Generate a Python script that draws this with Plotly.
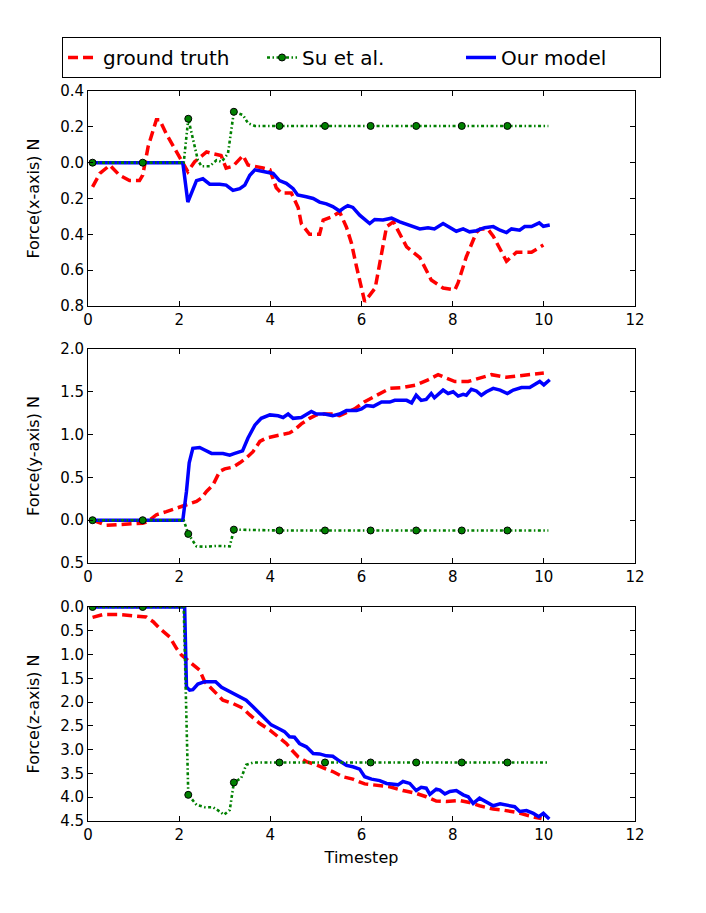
import plotly.graph_objects as go

# ---------------- data ----------------
x_ticks = [0, 2, 4, 6, 8, 10, 12]
fx_ticks = [0.4, 0.2, 0.0, -0.2, -0.4, -0.6, -0.8]
fy_ticks = [2.0, 1.5, 1.0, 0.5, 0.0, -0.5]
fz_ticks = [0.0, -0.5, -1.0, -1.5, -2.0, -2.5, -3.0, -3.5, -4.0, -4.5]

series_names = ["ground truth", "Su et al.", "Our model"]
y_titles = ["Force(x-axis) N", "Force(y-axis) N", "Force(z-axis) N"]
x_title = "Timestep"

# --- x-axis force ---
gt_fx_t = [0.1, 0.26, 0.48, 0.69, 0.91, 1.13, 1.2, 1.32, 1.5, 1.57,
           1.72, 1.9, 2.05, 2.19, 2.34, 2.6, 2.74, 2.92, 3.03, 3.18,
           3.4, 3.51, 3.84, 3.99, 4.13, 4.24, 4.46, 4.61, 4.68, 4.86,
           5.08, 5.16, 5.37, 5.52, 5.67, 5.78, 5.89, 6.07, 6.3, 6.55,
           6.7, 6.99, 7.28, 7.53, 7.79, 8.05, 8.12, 8.3, 8.52, 8.6,
           8.77, 8.89, 9.18, 9.4, 9.51, 9.73, 9.99]
gt_fx = [-0.135, -0.06, -0.014, -0.07, -0.1, -0.1, -0.07, 0.09, 0.24, 0.24,
         0.16, 0.08, 0.005, -0.05, 0.005, 0.06, 0.05, 0.04, -0.03, -0.02,
         0.04, -0.013, -0.03, -0.04, -0.14, -0.17, -0.17, -0.25, -0.34, -0.4,
         -0.4, -0.32, -0.30, -0.275, -0.36, -0.45, -0.58, -0.776, -0.70, -0.357,
         -0.33, -0.47, -0.53, -0.655, -0.70, -0.71, -0.67, -0.525, -0.39, -0.37,
         -0.37, -0.41, -0.55, -0.50, -0.50, -0.50, -0.46]

su_fx_t = [0.1, 1.2, 2.1, 2.2, 2.34, 2.41, 2.49, 2.67, 2.82, 2.93,
           3.07, 3.11, 3.2, 3.4, 3.51, 3.66, 4.2, 5.2, 6.2, 7.2,
           8.2, 9.2, 10.1]
su_fx = [0, 0, 0, 0.245, 0.09, 0.014, -0.02, -0.02, 0.014, 0.005,
         0.05, 0.12, 0.284, 0.266, 0.22, 0.205, 0.205, 0.205, 0.205, 0.205,
         0.205, 0.205, 0.205]

our_fx_t = [0.1, 2.08, 2.19, 2.38, 2.52, 2.67, 2.89, 3.03, 3.18, 3.33,
            3.44, 3.55, 3.66, 3.77, 3.91, 4.06, 4.2, 4.35, 4.5, 4.6,
            4.79, 4.94, 5.08, 5.23, 5.37, 5.52, 5.63, 5.7, 5.81, 5.96,
            6.18, 6.29, 6.47, 6.66, 6.84, 7.06, 7.28, 7.46, 7.6, 7.79,
            7.94, 8.08, 8.23, 8.37, 8.52, 8.7, 8.89, 9.04, 9.18, 9.29,
            9.47, 9.58, 9.73, 9.9, 9.99, 10.13]
our_fx = [0, 0, -0.22, -0.1, -0.09, -0.12, -0.12, -0.125, -0.155, -0.145,
          -0.125, -0.07, -0.04, -0.045, -0.055, -0.06, -0.1, -0.115, -0.145, -0.18,
          -0.19, -0.2, -0.22, -0.23, -0.245, -0.27, -0.25, -0.24, -0.25, -0.293,
          -0.34, -0.317, -0.32, -0.31, -0.33, -0.35, -0.37, -0.363, -0.37, -0.34,
          -0.36, -0.383, -0.37, -0.386, -0.38, -0.363, -0.357, -0.377, -0.39, -0.37,
          -0.377, -0.357, -0.357, -0.336, -0.355, -0.348]

# --- y-axis force ---
gt_fy_t = [0.1, 0.4, 0.7, 1.0, 1.2, 1.32, 1.5, 1.72, 1.94, 2.16,
           2.38, 2.49, 2.6, 2.74, 2.89, 3.0, 3.18, 3.33, 3.47, 3.62,
           3.77, 3.91, 4.2, 4.42, 4.53, 4.68, 4.86, 5.01, 5.19, 5.37,
           5.52, 5.7, 5.85, 6.07, 6.33, 6.62, 6.91, 7.2, 7.46, 7.68,
           7.86, 8.05, 8.34, 8.59, 8.85, 9.18, 9.47, 9.87, 10.0]
gt_fy = [0.0, -0.06, -0.05, -0.045, -0.035, -0.014, 0.064, 0.1, 0.14, 0.18,
         0.22, 0.26, 0.336, 0.41, 0.57, 0.6, 0.62, 0.67, 0.725, 0.80,
         0.92, 0.96, 1.0, 1.02, 1.055, 1.125, 1.19, 1.23, 1.24, 1.24,
         1.22, 1.26, 1.30, 1.385, 1.46, 1.54, 1.55, 1.58, 1.64, 1.70,
         1.66, 1.62, 1.62, 1.66, 1.70, 1.67, 1.69, 1.716, 1.72]

su_fy_t = [0.1, 1.2, 2.1, 2.2, 2.38, 2.56, 2.82, 3.11, 3.2, 4.2,
           5.2, 6.2, 7.2, 8.2, 9.2, 10.1]
su_fy = [0, 0, 0, -0.16, -0.305, -0.31, -0.30, -0.305, -0.11, -0.12,
         -0.12, -0.12, -0.12, -0.12, -0.12, -0.12]

our_fy_t = [0.1, 2.08, 2.16, 2.22, 2.3, 2.45, 2.56, 2.71, 2.96, 3.11,
            3.22, 3.39, 3.51, 3.66, 3.8, 3.99, 4.17, 4.28, 4.39, 4.5,
            4.68, 4.79, 4.9, 5.01, 5.19, 5.37, 5.52, 5.67, 5.89, 6.0,
            6.11, 6.26, 6.44, 6.62, 6.73, 6.88, 6.99, 7.1, 7.2, 7.31,
            7.42, 7.53, 7.6, 7.79, 7.9, 8.01, 8.12, 8.23, 8.3, 8.41,
            8.52, 8.63, 8.74, 8.89, 9.04, 9.2, 9.33, 9.51, 9.69, 9.91,
            10.0, 10.13]
our_fy = [0, 0, 0.336, 0.67, 0.84, 0.85, 0.82, 0.78, 0.78, 0.76,
          0.78, 0.81, 0.96, 1.11, 1.19, 1.23, 1.22, 1.20, 1.24, 1.19,
          1.2, 1.23, 1.27, 1.24, 1.24, 1.22, 1.24, 1.28, 1.28, 1.30,
          1.34, 1.33, 1.38, 1.38, 1.40, 1.40, 1.40, 1.37, 1.46, 1.40,
          1.41, 1.48, 1.43, 1.52, 1.48, 1.50, 1.45, 1.47, 1.46, 1.53,
          1.51, 1.46, 1.50, 1.54, 1.52, 1.48, 1.52, 1.55, 1.55, 1.62,
          1.58, 1.64]

# --- z-axis force ---
gt_fz_t = [0.1, 0.33, 0.69, 1.13, 1.28, 1.43, 1.57, 1.79, 1.94, 2.05,
           2.23, 2.45, 2.56, 2.74, 2.96, 3.18, 3.4, 3.55, 3.77, 3.99,
           4.2, 4.35, 4.5, 4.61, 4.79, 5.01, 5.23, 5.37, 5.59, 5.81,
           6.07, 6.33, 6.62, 6.91, 7.2, 7.42, 7.64, 7.86, 8.16, 8.37,
           8.59, 8.89, 9.1, 9.4, 9.58, 9.8, 9.95]
gt_fz = [-0.22, -0.16, -0.16, -0.19, -0.21, -0.31, -0.45, -0.63, -0.87, -1.01,
         -1.15, -1.33, -1.57, -1.75, -1.96, -2.03, -2.13, -2.27, -2.45, -2.59,
         -2.76, -2.87, -3.04, -3.15, -3.25, -3.32, -3.41, -3.46, -3.57, -3.62,
         -3.72, -3.74, -3.78, -3.86, -3.92, -3.99, -4.08, -4.09, -4.07, -4.11,
         -4.18, -4.25, -4.27, -4.32, -4.37, -4.42, -4.45]

su_fz_t = [0.1, 1.2, 2.1, 2.2, 2.38, 2.56, 2.74, 2.89, 2.98, 3.11,
           3.2, 3.36, 3.47, 3.62, 4.2, 5.2, 6.2, 7.2, 8.2, 9.2,
           10.1]
su_fz = [0, 0, 0, -3.95, -4.16, -4.21, -4.21, -4.30, -4.37, -4.27,
         -3.69, -3.6, -3.32, -3.27, -3.27, -3.27, -3.27, -3.27, -3.27, -3.27,
         -3.27]

our_fz_t = [0.1, 2.12, 2.16, 2.23, 2.3, 2.41, 2.56, 2.8, 2.93, 3.11,
            3.22, 3.33, 3.47, 3.62, 3.77, 3.91, 4.02, 4.17, 4.31, 4.42,
            4.53, 4.64, 4.79, 4.94, 5.08, 5.23, 5.37, 5.52, 5.67, 5.81,
            5.96, 6.07, 6.22, 6.4, 6.55, 6.66, 6.8, 6.91, 7.06, 7.2,
            7.31, 7.42, 7.5, 7.64, 7.72, 7.83, 7.94, 8.08, 8.23, 8.34,
            8.45, 8.59, 8.74, 8.89, 9.04, 9.18, 9.36, 9.47, 9.62, 9.77,
            9.89, 9.99, 10.12]
our_fz = [0, 0, -1.68, -1.75, -1.74, -1.62, -1.57, -1.57, -1.69, -1.78,
          -1.85, -1.89, -1.96, -2.10, -2.24, -2.38, -2.48, -2.55, -2.62, -2.73,
          -2.74, -2.87, -2.94, -3.08, -3.09, -3.13, -3.14, -3.24, -3.33, -3.36,
          -3.41, -3.57, -3.62, -3.65, -3.71, -3.72, -3.74, -3.67, -3.71, -3.86,
          -3.79, -3.81, -3.94, -3.83, -3.85, -3.93, -3.88, -3.86, -3.95, -3.99,
          -4.13, -4.02, -4.09, -4.18, -4.14, -4.16, -4.20, -4.30, -4.28, -4.34,
          -4.41, -4.34, -4.46]

# timesteps at which the Su et al. curve carries a marker
su_marker_t = [0.1, 1.2, 2.2, 3.2, 4.2, 5.2, 6.2, 7.2, 8.2, 9.2]

# ---------------- styles ----------------
RED = "#ff0000"
GREEN = "#008000"
BLUE = "#0000ff"
FONT = "DejaVu Sans"

gt_line = dict(color=RED, width=3.5, dash="10px,5px")
su_line = dict(color=GREEN, width=2.6, dash="3px,2.5px,1.5px,2.5px")
our_line = dict(color=BLUE, width=3.5)
su_marker = dict(color=GREEN, size=7, line=dict(color="#000000", width=1))

panels = [
    (gt_fx_t, gt_fx, su_fx_t, su_fx, our_fx_t, our_fx, fx_ticks, [-0.8, 0.4]),
    (gt_fy_t, gt_fy, su_fy_t, su_fy, our_fy_t, our_fy, fy_ticks, [-0.5, 2.0]),
    (gt_fz_t, gt_fz, su_fz_t, su_fz, our_fz_t, our_fz, fz_ticks, [-4.5, 0.0]),
]
domains = [[0.7055, 1.0], [0.3534, 0.6466], [0.0, 0.2932]]

fig = go.Figure()

for i, (gtt, gtv, sut, suv, ot, ov, yt, yr) in enumerate(panels):
    xa = "x" if i == 0 else f"x{i+1}"
    ya = "y" if i == 0 else f"y{i+1}"
    first = i == 0
    fig.add_trace(go.Scatter(x=gtt, y=gtv, mode="lines", line=gt_line,
                             name=series_names[0], legendgroup="gt", legendrank=1,
                             showlegend=first, xaxis=xa, yaxis=ya))
    fig.add_trace(go.Scatter(x=ot, y=ov, mode="lines", line=our_line,
                             name=series_names[2], legendgroup="our", legendrank=3,
                             showlegend=first, xaxis=xa, yaxis=ya))
    fig.add_trace(go.Scatter(x=sut, y=suv, mode="lines", line=su_line,
                             name=series_names[1], legendgroup="su",
                             showlegend=False, xaxis=xa, yaxis=ya))
    mk_x = [t for t in sut if t in su_marker_t]
    mk_y = [v for t, v in zip(sut, suv) if t in su_marker_t]
    fig.add_trace(go.Scatter(x=mk_x, y=mk_y, mode="markers", marker=su_marker,
                             name=series_names[1], legendgroup="su",
                             showlegend=False, xaxis=xa, yaxis=ya))

# legend entry for Su et al. (line with marker)
fig.add_trace(go.Scatter(x=[None], y=[None], mode="lines+markers", line=su_line,
                         marker=su_marker, name=series_names[1], legendgroup="su",
                         legendrank=2, showlegend=True, xaxis="x", yaxis="y"))

axis_common = dict(
    showline=True, linecolor="#000000", linewidth=1, mirror="allticks",
    ticks="inside", ticklen=5, tickwidth=1, tickcolor="#000000",
    showgrid=False, zeroline=False, automargin=False,
    tickfont=dict(family=FONT, size=15, color="#000000"),
)

# the page body adds an 8px offset, so margins are reduced by 8px on left/top
layout = dict(
    width=706, height=913,
    margin=dict(l=80, r=79, t=83, b=100, autoexpand=False),
    paper_bgcolor="white", plot_bgcolor="white",
    font=dict(family=FONT, color="#000000"),
    legend=dict(
        orientation="h", x=-0.0475, xanchor="left", y=1.074, yanchor="top",
        bordercolor="#000000", borderwidth=1, bgcolor="white",
        font=dict(family=FONT, size=20, color="#000000"),
        entrywidth=154, entrywidthmode="pixels", traceorder="normal",
    ),
)

for i, (gtt, gtv, sut, suv, ot, ov, yt, yr) in enumerate(panels):
    xk = "xaxis" if i == 0 else f"xaxis{i+1}"
    yk = "yaxis" if i == 0 else f"yaxis{i+1}"
    ya = "y" if i == 0 else f"y{i+1}"
    xa = "x" if i == 0 else f"x{i+1}"
    xd = dict(axis_common, range=[0, 12], tickvals=x_ticks,
              ticktext=[str(v) for v in x_ticks], anchor=ya, domain=[0, 1])
    if i == 2:
        xd["title"] = dict(text=x_title, font=dict(family=FONT, size=16), standoff=8)
    yd = dict(axis_common, range=yr, tickvals=yt,
              ticktext=[f"{abs(v):.1f}" for v in yt], anchor=xa,
              domain=domains[i],
              title=dict(text=y_titles[i], font=dict(family=FONT, size=16), standoff=16))
    layout[xk] = xd
    layout[yk] = yd

fig.update_layout(**layout)
fig.write_html("out.html")
